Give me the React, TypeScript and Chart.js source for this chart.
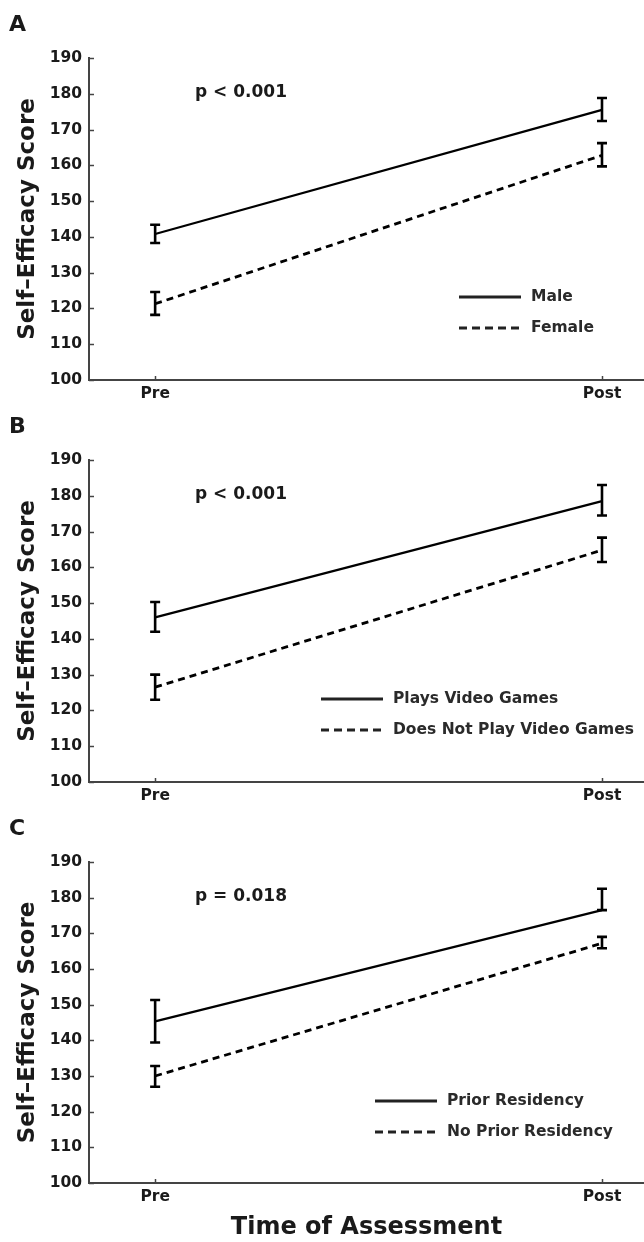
import React, { useEffect, useRef } from 'react';
import { Chart, registerables } from 'chart.js';
Chart.register(...registerables);

// ---------- data ----------
const timeLabels = ['Pre', 'Post'];
const timeValues = [0, 1];
const yMin = 100;
const yMax = 190;
const yStep = 10;

// Panel A
const maleMean = [140.8, 175.5];
const maleLow = [138.3, 172.4];
const maleHigh = [143.4, 178.8];
const femaleMean = [121.3, 162.8];
const femaleLow = [118.2, 159.7];
const femaleHigh = [124.6, 166.2];

// Panel B
const playsMean = [146.0, 178.5];
const playsLow = [142.0, 174.5];
const playsHigh = [150.3, 183.0];
const noPlayMean = [126.5, 164.8];
const noPlayLow = [123.0, 161.5];
const noPlayHigh = [130.0, 168.3];

// Panel C
const priorMean = [145.3, 176.5];
const priorLow = [139.4, 176.5];
const priorHigh = [151.3, 182.5];
const noPriorMean = [130.0, 167.2];
const noPriorLow = [127.0, 165.8];
const noPriorHigh = [132.8, 169.0];

const panels = [
  {
    letter: 'A',
    pText: 'p < 0.001',
    legendX: 459,
    series: [
      { label: 'Male', mean: maleMean, low: maleLow, high: maleHigh, dashed: false },
      { label: 'Female', mean: femaleMean, low: femaleLow, high: femaleHigh, dashed: true },
    ],
  },
  {
    letter: 'B',
    pText: 'p < 0.001',
    legendX: 321,
    series: [
      { label: 'Plays Video Games', mean: playsMean, low: playsLow, high: playsHigh, dashed: false },
      { label: 'Does Not Play Video Games', mean: noPlayMean, low: noPlayLow, high: noPlayHigh, dashed: true },
    ],
  },
  {
    letter: 'C',
    pText: 'p = 0.018',
    legendX: 375,
    series: [
      { label: 'Prior Residency', mean: priorMean, low: priorLow, high: priorHigh, dashed: false },
      { label: 'No Prior Residency', mean: noPriorMean, low: noPriorLow, high: noPriorHigh, dashed: true },
    ],
  },
];

const FONT = 'DejaVu Sans';
const TEXT = '#1a1a1a';
const AXIS = '#444444';

function Panel({ cfg, height, showXTitle }: any) {
  const ref = useRef<HTMLCanvasElement>(null);
  useEffect(() => {
    const overlay = {
      id: 'panelOverlay',
      afterDatasetsDraw(chart: any) {
        const ctx = chart.ctx;
        const xs = chart.scales.x;
        const ys = chart.scales.y;
        const area = chart.chartArea;
        ctx.save();
        // inward ticks
        ctx.strokeStyle = AXIS;
        ctx.lineWidth = 1.5;
        ctx.setLineDash([]);
        ys.ticks.forEach((t: any) => {
          const y = Math.round(ys.getPixelForValue(t.value)) + 0.5;
          ctx.beginPath();
          ctx.moveTo(area.left, y);
          ctx.lineTo(area.left + 5, y);
          ctx.stroke();
        });
        timeValues.forEach((v) => {
          const x = Math.round(xs.getPixelForValue(v)) + 0.5;
          ctx.beginPath();
          ctx.moveTo(x, area.bottom);
          ctx.lineTo(x, area.bottom - 4);
          ctx.stroke();
        });
        // error bars
        ctx.strokeStyle = '#000';
        ctx.lineWidth = 2.6;
        chart.data.datasets.forEach((ds: any) => {
          timeValues.forEach((v, i) => {
            const x = xs.getPixelForValue(v);
            const yl = ys.getPixelForValue(ds.errLow[i]);
            const yh = ys.getPixelForValue(ds.errHigh[i]);
            ctx.beginPath();
            ctx.moveTo(x, yl);
            ctx.lineTo(x, yh);
            ctx.moveTo(x - 5, yl);
            ctx.lineTo(x + 5, yl);
            ctx.moveTo(x - 5, yh);
            ctx.lineTo(x + 5, yh);
            ctx.stroke();
          });
        });
        // legend
        const rows = [297, 328];
        chart.data.datasets.forEach((ds: any, i: number) => {
          const y = rows[i];
          ctx.strokeStyle = '#222';
          ctx.lineWidth = 3.2;
          ctx.setLineDash(ds.borderDash && ds.borderDash.length ? [8, 5] : []);
          ctx.beginPath();
          ctx.moveTo(cfg.legendX, y);
          ctx.lineTo(cfg.legendX + 62, y);
          ctx.stroke();
          ctx.setLineDash([]);
          ctx.fillStyle = '#2a2a2a';
          ctx.font = `bold 15.5px "${FONT}"`;
          ctx.textAlign = 'left';
          ctx.textBaseline = 'middle';
          ctx.fillText(ds.label, cfg.legendX + 72, y);
        });
        // p value
        ctx.fillStyle = TEXT;
        ctx.font = `bold 17px "${FONT}"`;
        ctx.textAlign = 'left';
        ctx.textBaseline = 'middle';
        ctx.fillText(cfg.pText, 195, 93);
        // panel letter
        ctx.font = `bold 22px "${FONT}"`;
        ctx.fillText(cfg.letter, 9, 25);
        ctx.restore();
      },
    };

    const chart = new Chart(ref.current as HTMLCanvasElement, {
      type: 'line',
      data: {
        datasets: cfg.series.map((s: any) => ({
          label: s.label,
          data: timeValues.map((x, i) => ({ x, y: s.mean[i] })),
          borderColor: '#000',
          backgroundColor: '#000',
          borderWidth: s.dashed ? 2.8 : 2.2,
          borderDash: s.dashed ? [7, 5] : [],
          pointRadius: 0,
          fill: false,
          tension: 0,
          errLow: s.low,
          errHigh: s.high,
        })),
      },
      options: {
        responsive: false,
        animation: false,
        devicePixelRatio: 1,
        layout: { padding: { top: 58, left: 0, right: 0, bottom: 0 } },
        plugins: { legend: { display: false }, tooltip: { enabled: false } },
        scales: {
          x: {
            type: 'linear',
            min: -0.148,
            max: 1.094,
            afterBuildTicks: (s: any) => {
              s.ticks = timeValues.map((v) => ({ value: v }));
            },
            afterFit: (s: any) => {
              s.height = showXTitle ? 59 : 22;
            },
            ticks: {
              autoSkip: false,
              maxRotation: 0,
              padding: 5,
              color: TEXT,
              font: { family: FONT, size: 15.5, weight: 'bold' },
              callback: (v: any) => {
                const idx = timeValues.indexOf(Number(v));
                return idx >= 0 ? timeLabels[idx] : '';
              },
            },
            grid: { display: false, drawOnChartArea: false, drawTicks: false },
            border: { display: true, color: AXIS, width: 2 },
            title: {
              display: !!showXTitle,
              text: 'Time of Assessment',
              color: TEXT,
              font: { family: FONT, size: 24, weight: 'bold' },
              padding: { top: 0, bottom: 0 },
            },
          },
          y: {
            type: 'linear',
            min: yMin,
            max: yMax,
            afterFit: (s: any) => {
              s.width = 89;
            },
            ticks: {
              stepSize: yStep,
              padding: 7,
              color: TEXT,
              font: { family: FONT, size: 15.5, weight: 'bold' },
            },
            grid: { display: false, drawOnChartArea: false, drawTicks: false },
            border: { display: true, color: AXIS, width: 2 },
            title: {
              display: true,
              text: 'Self–Efficacy Score',
              color: TEXT,
              font: { family: FONT, size: 23, weight: 'bold' },
              padding: { top: 14, bottom: 0 },
            },
          },
        },
      } as any,
      plugins: [overlay],
    });
    return () => chart.destroy();
  }, []);
  return <canvas ref={ref} width={644} height={height} style={{ display: 'block' }} />;
}

export default function App() {
  return (
    <div style={{ position: 'absolute', left: 0, top: 0, width: 644, height: 1242, background: '#fff' }}>
      <Panel cfg={panels[0]} height={402} showXTitle={false} />
      <Panel cfg={panels[1]} height={402} showXTitle={false} />
      <Panel cfg={panels[2]} height={438} showXTitle={true} />
    </div>
  );
}
